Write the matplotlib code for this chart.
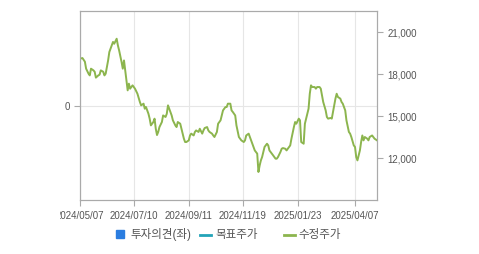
import matplotlib
matplotlib.use("Agg")
import matplotlib.pyplot as plt
from matplotlib.patches import Rectangle
from matplotlib.lines import Line2D
from matplotlib.ticker import FuncFormatter
from matplotlib.transforms import Bbox, TransformedBbox, IdentityTransform

plt.rcParams['font.family'] = ['Liberation Sans', 'Noto Sans CJK KR']

# trading-day index and adjusted close
day = [0, 2, 4, 5, 7, 8, 9, 11, 12, 13, 15, 16, 17, 19, 20, 21, 23, 24, 26, 27,
       28, 30, 31, 32, 34, 35, 36, 37, 38, 39, 40, 41, 43, 44, 45, 47, 49, 50, 52, 53,
       54, 56, 57, 58, 60, 61, 62, 63, 64, 65, 67, 68, 70, 71, 72, 74, 75, 76, 78, 79,
       80, 82, 83, 85, 86, 87, 89, 90, 91, 93, 94, 95, 97, 98, 100, 101, 102, 104, 105, 106,
       108, 109, 110, 112, 113, 115, 116, 117, 119, 120, 121, 123, 124, 125, 127, 128, 130, 131, 132, 134,
       135, 136, 138, 139, 141, 142, 143, 145, 146, 147, 148, 149, 150, 151, 153, 154, 155, 157, 158, 160,
       161, 162, 164, 165, 166, 168, 169, 170, 172, 173, 175, 176, 177, 179, 180, 181, 183, 184, 185, 187,
       188, 189, 190, 192, 193, 194, 196, 197, 198, 199, 201, 202, 203, 205, 206, 207, 209, 210, 211, 213,
       214, 215, 217, 218, 220, 221, 222, 224, 225, 226, 227, 229, 230, 231, 232, 233, 235, 236, 237, 239,
       240, 241, 243]
price = [19090, 19140, 18880, 18380, 18020, 17900, 18380, 18260, 18160, 17740, 17900, 17950, 18260, 18160, 17900, 18020, 18970, 19570, 20040, 20290,
         20160, 20520, 20040, 19690, 18860, 18380, 18970, 18260, 17540, 16830, 17310, 16950, 17190, 17070, 16950, 16590, 16000, 15760, 15880, 15520,
         15640, 15160, 14810, 14330, 14570, 14810, 14090, 13640, 13860, 14210, 14570, 15040, 14930, 15160, 15760, 15290, 15040, 14690, 14330, 14210,
         14570, 14450, 14090, 13380, 13140, 13140, 13260, 13610, 13740, 13610, 13860, 13970, 13860, 14090, 13740, 13970, 14140, 14210, 13970, 13860,
         13740, 13610, 13500, 13860, 14450, 14690, 15040, 15400, 15640, 15640, 15880, 15880, 15400, 15290, 15040, 14330, 13500, 13380, 13260, 13140,
         13260, 13610, 13740, 13500, 13020, 12790, 12540, 12310, 11000, 11470, 11830, 12070, 12430, 12790, 13020, 12900, 12540, 12310, 12190, 11950,
         11950, 12070, 12430, 12660, 12710, 12660, 12540, 12660, 12900, 13380, 14210, 14570, 14450, 14810, 14690, 13140, 13020, 14450, 14810, 15520,
         16590, 17190, 17070, 17070, 16950, 17070, 17070, 16950, 16470, 16000, 15400, 14930, 14810, 14860, 14810, 15290, 16240, 16590, 16360, 16240,
         16000, 15880, 15400, 14690, 13860, 13740, 13500, 12900, 12790, 12070, 11830, 12540, 13140, 13610, 13260, 13500, 13380, 13260, 13500, 13610,
         13500, 13380, 13260]

tick_days = [0, 44, 89, 133, 178, 225]
tick_labels = ['2024/05/07', '2024/07/10', '2024/09/11', '2024/11/19', '2025/01/23', '2025/04/07']
price_ticks = [12000, 15000, 18000, 21000]
legend_labels = ['투자의견(좌)', '목표주가', '수정주가']

grey = '#aaaaaa'
txt = '#555555'

fig = plt.figure(figsize=(4.79, 2.55), dpi=100)
ax = fig.add_axes([80 / 479, 54 / 255, 297 / 479, 189 / 255])
ax.set_xlim(0, 243)
ax.set_ylim(-1, 1)
ax.set_yticks([0])
ax.set_yticklabels(['0'])
ax.set_xticks(tick_days)
ax.set_xticklabels(tick_labels)
ax.grid(True, color='#e6e6e6', linewidth=0.8)
for s in ax.spines.values():
    s.set_color(grey)
ax.tick_params(colors=grey, labelcolor=txt, labelsize=7, length=4, width=0.8)
ax.tick_params(axis='x', pad=3)

ax2 = ax.twinx()
ax2.set_ylim(9000, 22500)
ax2.set_yticks(price_ticks)
ax2.yaxis.set_major_formatter(FuncFormatter(lambda v, p: f'{int(v):,}'))
ax2.tick_params(colors=grey, labelcolor=txt, labelsize=7, length=4, width=0.8)
for s in ax2.spines.values():
    s.set_color(grey)
ax2.plot(day, price, color='#8cb54e', linewidth=1.4)

# first date label is cut at the chart edge
clip = TransformedBbox(Bbox([[60, 0], [479, 255]]), IdentityTransform())
lab0 = ax.get_xticklabels()[0]
lab0.set_clip_box(clip)
lab0.set_clip_on(True)

# legend
def fx(px):
    return px / 479

def fy(py):
    return 1 - py / 255

fig.add_artist(Rectangle((fx(116), fy(239)), 8 / 479, 8 / 255, transform=fig.transFigure,
                         color='#2b7de0'))
fig.text(fx(130), fy(235), legend_labels[0], fontsize=8.3, color=txt, va='center')
fig.add_artist(Line2D([fx(200), fx(211)], [fy(235.5), fy(235.5)], transform=fig.transFigure,
                      color='#23a3b8', linewidth=2))
fig.text(fx(215), fy(235), legend_labels[1], fontsize=8.3, color=txt, va='center')
fig.add_artist(Line2D([fx(284), fx(295)], [fy(235.5), fy(235.5)], transform=fig.transFigure,
                      color='#8cb54e', linewidth=2))
fig.text(fx(298), fy(235), legend_labels[2], fontsize=8.3, color=txt, va='center')

fig.savefig('out.png', dpi=100)
